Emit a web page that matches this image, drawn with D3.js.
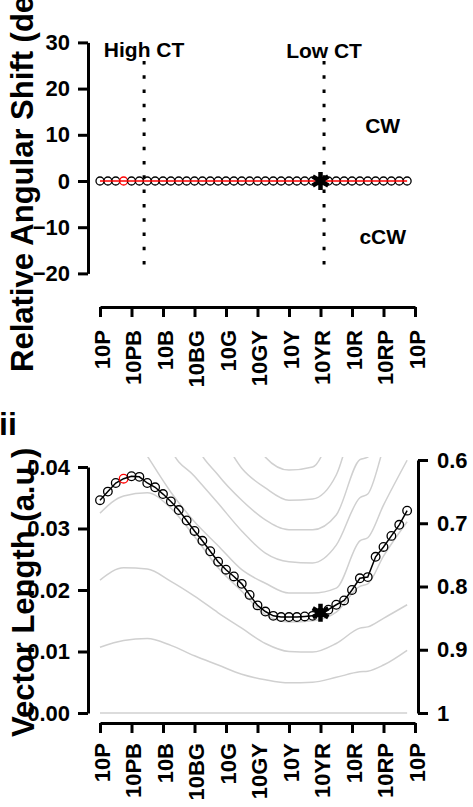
<!DOCTYPE html>
<html>
<head>
<meta charset="utf-8">
<script src="https://cdn.jsdelivr.net/npm/d3@7.9.0/dist/d3.min.js"></script>
<style>
  body { margin: 0; background: #fff; }
  svg { display: block; font-family: "Liberation Sans", Arial, Helvetica, sans-serif; font-weight: bold; }
  .axis path, .axis line { stroke: #000; stroke-width: 3; }
  .axis text { fill: #000; font-size: 22px; font-weight: bold; }
</style>
</head>
<body>
<svg id="chart" width="473" height="807"></svg>
<script>
// hue axis
const hueTicks = ['10P', '10PB', '10B', '10BG', '10G', '10GY', '10Y', '10YR', '10R', '10RP', '10P'];
const hueTickPos = [0, 4, 8, 12, 16, 20, 24, 28, 32, 36, 40];

// 40 hue steps
const angularShift = [0, 0, 0, 0, 0, 0, 0, 0, 0, 0, 0, 0, 0, 0, 0, 0, 0, 0, 0, 0,
  0, 0, 0, 0, 0, 0, 0, 0, 0, 0, 0, 0, 0, 0, 0, 0, 0, 0, 0, 0];
const vectorLength = [0.0346, 0.0360, 0.0374, 0.0381, 0.0385, 0.0384, 0.0374, 0.0367,
  0.0356, 0.0344, 0.0330, 0.0313, 0.0296, 0.0280, 0.0263, 0.0246, 0.0233, 0.0222,
  0.0210, 0.0192, 0.0175, 0.0165, 0.0158, 0.0156, 0.0156, 0.0156, 0.0157, 0.0158,
  0.0163, 0.0168, 0.0176, 0.0183, 0.0200, 0.0219, 0.0221, 0.0254, 0.0270, 0.0288,
  0.0306, 0.0329];
const refIndex = 3;       // red circle
const lowCTIndex = 28;    // asterisk
const highCT = 5.6;
const lowCT = 28.45;

// grey reference curves (sampled at these hue steps)
const greyIdx = [0, 3, 6, 9, 12, 15, 18, 21, 24, 27, 30, 33, 34, 36, 39];
const grey0 = [0, 0, 0, 0, 0, 0, 0, 0, 0, 0, 0, 0, 0, 0, 0];
const grey1 = [0.0107, 0.0118, 0.0121, 0.0110, 0.0093, 0.0078, 0.0063, 0.0054, 0.0049, 0.0050, 0.0058, 0.0067, 0.0068, 0.0078, 0.0102];
const grey2 = [0.0216, 0.0236, 0.0234, 0.0214, 0.0190, 0.0163, 0.0138, 0.0113, 0.0100, 0.0099, 0.0113, 0.0138, 0.0140, 0.0154, 0.0176];
const grey3 = [0.0325, 0.0353, 0.0358, 0.0333, 0.0287, 0.0236, 0.0198, 0.0160, 0.0148, 0.0150, 0.0164, 0.0206, 0.0210, 0.0255, 0.0311];
const grey4 = [0.0500, 0.0480, 0.0418, 0.0359, 0.0311, 0.0272, 0.0233, 0.0211, 0.0195, 0.0195, 0.0203, 0.0280, 0.0285, 0.0338, 0.0411];
const grey5 = [0.0700, 0.0680, 0.0620, 0.0430, 0.0385, 0.0341, 0.0296, 0.0260, 0.0246, 0.0244, 0.0273, 0.0350, 0.0356, 0.0431, 0.0550];
const grey6 = [0.0800, 0.0780, 0.0720, 0.0600, 0.0445, 0.0387, 0.0346, 0.0314, 0.0298, 0.0298, 0.0322, 0.0412, 0.0416, 0.0520, 0.0620];
const grey7 = [0.0900, 0.0880, 0.0820, 0.0700, 0.0520, 0.0460, 0.0398, 0.0366, 0.0346, 0.0348, 0.0387, 0.0500, 0.0510, 0.0600, 0.0700];
const grey8 = [0.1000, 0.0980, 0.0920, 0.0800, 0.0650, 0.0560, 0.0500, 0.0416, 0.0395, 0.0400, 0.0480, 0.0600, 0.0620, 0.0700, 0.0800];
const greyCurves = [grey0, grey1, grey2, grey3, grey4, grey5, grey6, grey7, grey8];

const svg = d3.select('#chart');
const x = d3.scaleLinear().domain([0, 40]).range([100, 415]);

// ---------- top panel ----------
const yTop = d3.scaleLinear().domain([-20, 30]).range([273.4, 42.4]);

svg.append('g')
  .attr('class', 'axis')
  .attr('transform', 'translate(88,0)')
  .call(d3.axisLeft(yTop).tickValues([-20, -10, 0, 10, 20, 30]).tickSize(10).tickSizeOuter(0).tickPadding(8));

function hueAxis(yPos, labelGap) {
  const g = svg.append('g')
    .attr('class', 'axis')
    .attr('transform', `translate(0,${yPos})`)
    .call(d3.axisBottom(x).tickValues(hueTickPos).tickFormat((d, i) => hueTicks[i])
      .tickSize(10).tickSizeOuter(0));
  g.selectAll('text')
    .attr('transform', 'rotate(-90)')
    .attr('text-anchor', 'end')
    .attr('x', -labelGap)
    .attr('y', 9)
    .attr('dy', 0)
    .style('font-size', '22px');
}
hueAxis(307, 23);

[highCT, lowCT].forEach((v) => {
  svg.append('line')
    .attr('x1', x(v)).attr('x2', x(v))
    .attr('y1', yTop(26)).attr('y2', yTop(-18.7))
    .attr('stroke', '#000').attr('stroke-width', 3)
    .attr('stroke-dasharray', '3.5,10.8');
});

svg.append('text').attr('x', x(highCT)).attr('y', 57).attr('text-anchor', 'middle')
  .style('font-size', '21px').text('High CT');
svg.append('text').attr('x', x(lowCT)).attr('y', 58).attr('text-anchor', 'middle')
  .style('font-size', '21px').text('Low CT');
svg.append('text').attr('x', x(35.9)).attr('y', yTop(12)).attr('dy', '0.36em').attr('text-anchor', 'middle')
  .style('font-size', '21px').text('CW');
svg.append('text').attr('x', x(35.9)).attr('y', yTop(-12)).attr('dy', '0.36em').attr('text-anchor', 'middle')
  .style('font-size', '21px').text('cCW');

svg.selectAll('.topPt')
  .data(angularShift)
  .join('circle')
  .attr('cx', (d, i) => x(i))
  .attr('cy', (d) => yTop(d))
  .attr('r', 4)
  .attr('fill', 'none')
  .attr('stroke', (d, i) => i === refIndex ? '#ff0000' : '#000')
  .attr('stroke-width', 1.3);

svg.append('path')
  .datum(angularShift)
  .attr('d', d3.line().x((d, i) => x(i)).y((d) => yTop(d)))
  .attr('fill', 'none')
  .attr('stroke', '#ff0000')
  .attr('stroke-width', 1.5);

const star = d3.symbol(d3.symbolAsterisk, 229);
svg.append('path')
  .attr('d', star())
  .attr('transform', `translate(${x(lowCTIndex)},${yTop(angularShift[lowCTIndex])})`)
  .attr('fill', 'none').attr('stroke', '#000').attr('stroke-width', 4.5);

svg.append('text')
  .attr('transform', 'translate(33,372) rotate(-90)')
  .style('font-size', '31px')
  .text('Relative Angular Shift (deg)');

// ---------- bottom panel ----------
const yBot = d3.scaleLinear().domain([0, 0.04]).range([713, 467]);
const yRight = d3.scaleLinear().domain([0.6, 1]).range([460, 713]);

svg.append('defs').append('clipPath').attr('id', 'plotClip')
  .append('rect').attr('x', 88).attr('y', 457).attr('width', 331).attr('height', 266);

const greyLine = d3.line()
  .x((d, i) => x(greyIdx[i]))
  .y((d) => yBot(d))
  .curve(d3.curveMonotoneX);

const greyG = svg.append('g').attr('clip-path', 'url(#plotClip)');
greyCurves.forEach((c) => {
  greyG.append('path')
    .datum(c)
    .attr('d', greyLine)
    .attr('fill', 'none')
    .attr('stroke', '#d0d0d0')
    .attr('stroke-width', 1.5);
});

svg.append('path')
  .datum(vectorLength)
  .attr('d', d3.line().x((d, i) => x(i)).y((d) => yBot(d)))
  .attr('fill', 'none')
  .attr('stroke', '#000')
  .attr('stroke-width', 1.5);

svg.selectAll('.botPt')
  .data(vectorLength)
  .join('circle')
  .attr('cx', (d, i) => x(i))
  .attr('cy', (d) => yBot(d))
  .attr('r', 4.3)
  .attr('fill', 'none')
  .attr('stroke', (d, i) => i === refIndex ? '#ff0000' : '#000')
  .attr('stroke-width', 1.3);

svg.append('path')
  .attr('d', star())
  .attr('transform', `translate(${x(lowCTIndex)},${yBot(vectorLength[lowCTIndex])})`)
  .attr('fill', 'none').attr('stroke', '#000').attr('stroke-width', 4.5);

svg.append('g')
  .attr('class', 'axis')
  .attr('transform', 'translate(88,0)')
  .call(d3.axisLeft(yBot).tickValues([0, 0.01, 0.02, 0.03, 0.04]).tickFormat(d3.format('.2f'))
    .tickSize(10).tickSizeOuter(0).tickPadding(8));

svg.append('g')
  .attr('class', 'axis')
  .attr('transform', 'translate(418,0)')
  .call(d3.axisRight(yRight).tickValues([0.6, 0.7, 0.8, 0.9, 1]).tickFormat(d3.format('~g'))
    .tickSize(10).tickSizeOuter(0).tickPadding(9));

hueAxis(723, 20);

svg.append('text')
  .attr('transform', 'translate(34,737) rotate(-90)')
  .style('font-size', '31px')
  .text('Vector Length (a.u.)');

svg.append('text')
  .attr('x', -1).attr('y', 435)
  .style('font-size', '32px')
  .text('ii');
</script>
</body>
</html>
